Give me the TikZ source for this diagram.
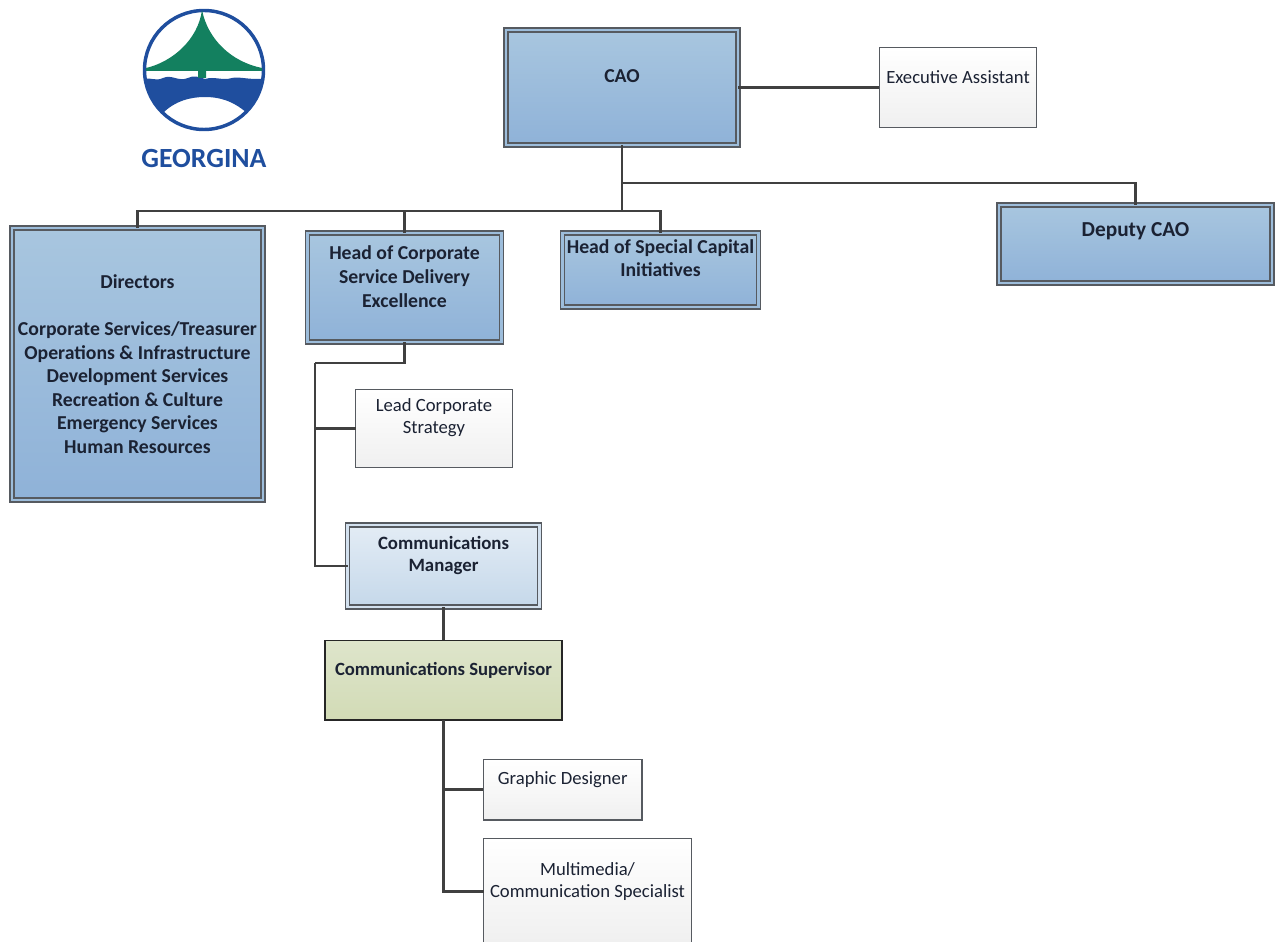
\documentclass[tikz,border=0pt]{standalone}
\usepackage{fontspec}
\setmainfont{Carlito}
\usepackage{xcolor}
\usetikzlibrary{positioning}
\definecolor{boxline}{HTML}{565A60}
\definecolor{wireline}{HTML}{404040}
\definecolor{inktext}{HTML}{1B2233}
\definecolor{logoblue}{HTML}{1F4E9E}
\definecolor{logogreen}{HTML}{13805F}
\definecolor{CAOtop}{HTML}{A8C6DF}
\definecolor{CAObot}{HTML}{8FB2D8}
\definecolor{CAOmid}{HTML}{9DBDDB}
\definecolor{MGRtop}{HTML}{E3ECF5}
\definecolor{MGRbot}{HTML}{C5D8EA}
\definecolor{MGRmid}{HTML}{D3E1EF}
\definecolor{SUPtop}{HTML}{DEE5CB}
\definecolor{SUPbot}{HTML}{D2DBB6}
\tikzset{
  >=latex,
  line/.style={draw=wireline, line width=2.2pt}
}

\begin{document}
\begin{tikzpicture}[x=0.75pt, y=-0.75pt, outer sep=0pt]
    % Define styles
    \tikzstyle{block} = [rectangle, draw=boxline, line width=1.2pt, double=#1, double distance=1.9pt, text=inktext, align=center, font=\fontsize{14.8}{17.7}\selectfont\bfseries]
    \tikzstyle{darkblock} = [block=CAOmid, top color=CAOtop, bottom color=CAObot]
    \tikzstyle{lightblock} = [block=MGRmid, top color=MGRtop, bottom color=MGRbot, font=\fontsize{14.1}{16.5}\selectfont\bfseries]
    \tikzstyle{plainblock} = [rectangle, draw=boxline, line width=0.9pt, top color=white, bottom color=black!6, text=inktext, align=center, font=\fontsize{14}{16.5}\selectfont]
    \tikzstyle{greenblock} = [rectangle, draw=black!85, line width=1.1pt, top color=SUPtop, bottom color=SUPbot, text=inktext, align=center, font=\fontsize{14}{17}\selectfont\bfseries]

    % Fix the page and cut what runs over it
    \useasboundingbox (0,0) rectangle (1276,941);
    \clip (0,0) rectangle (1276,941);

    % Logo
    \begin{scope}
        \clip (204,70) circle [radius=60];
        \fill[logoblue] (140,80) .. controls (150,76) and (155,82) .. (163,78)
            .. controls (172,74) and (178,82) .. (188,78) .. controls (193,75) and (200,77) .. (205,79)
            .. controls (215,76) and (222,81) .. (232,78) .. controls (240,76) and (250,81) .. (270,78)
            -- (270,135) -- (255,125) -- (247,113) .. controls (232,100) and (218,97) .. (205,97)
            .. controls (190,97) and (175,101) .. (163,113) -- (155,125) -- (140,135) -- cycle;
    \end{scope}
    \draw[logoblue, line width=2.6pt] (204,70) circle [radius=59.5];
    \fill[logogreen] (202,10) .. controls (198,40) and (172,62) .. (146,68) -- (146,71) -- (198,71) -- (198,78)
        -- (206,78) -- (206,71) -- (262,71) -- (262,68) .. controls (232,62) and (208,40) .. (202,10) -- cycle;
    \node[text=logoblue, font=\fontsize{20.8}{24}\selectfont\bfseries] (logotext) at (204,159) {GEORGINA};

    % Place nodes
    \node [darkblock, minimum width=174pt, minimum height=86.25pt, text depth=17pt] (cao) at (622,87.5) {CAO};
    \node [plainblock, minimum width=118pt, minimum height=59.6pt, text depth=15pt, right=106pt of cao] (assistant) {Executive Assistant};
    \node [darkblock, minimum width=204.75pt, minimum height=58.5pt, text depth=21pt, font=\fontsize{16}{18}\selectfont\bfseries] (deputy) at (1135.5,244) {Deputy CAO};
    \node [darkblock, minimum width=188.25pt, minimum height=204pt] (directors) at (137.5,364) {Directors\\[17.7pt]Corporate Services/Treasurer\\Operations \& Infrastructure\\Development Services\\Recreation \& Culture\\Emergency Services\\Human Resources};
    \node [darkblock, minimum width=145.5pt, minimum height=81.75pt, text depth=16.5pt] (delivery) at (404.5,287.5) {Head of Corporate\\Service Delivery\\Excellence};
    \node [darkblock, minimum width=144.75pt, minimum height=55.5pt, text depth=18pt] (capital) at (660.5,270) {Head of Special Capital\\Initiatives};
    \node [plainblock, minimum width=117.75pt, minimum height=58.5pt, text depth=18pt] (strategy) at (434,428.5) {Lead Corporate\\Strategy};
    \node [lightblock, minimum width=144pt, minimum height=61.5pt, text depth=18pt] (manager) at (443.5,566) {Communications\\Manager};
    \node [greenblock, minimum width=178pt, minimum height=59.6pt, text depth=16.5pt, below=25pt of manager] (supervisor) {Communications Supervisor};
    \node [plainblock, minimum width=119pt, minimum height=45.4pt, text depth=17pt] (designer) at (562.75,789.75) {Graphic Designer};
    \node [plainblock, minimum width=156pt, minimum height=79.5pt, text depth=17pt] (specialist) at (587.5,891.5) {Multimedia/\\Communication Specialist};

    % Bends of the wires
    \coordinate (busa) at (622,183);
    \coordinate (busb) at (622,211);
    \coordinate (spine) at (315,363);

    % Draw edges
    \path [line] (cao) -- (assistant);
    \path [line] (cao.south) -- (busb);
    \path [line] (busa) -| (deputy.north);
    \path [line] (directors.north) |- (busb);
    \path [line] (delivery.north) |- (busb);
    \path [line] (capital.north) |- (busb);
    \path [line] (delivery.south) |- (spine);
    \path [line] (spine) |- (manager.west);
    \path [line] (spine |- strategy.west) -- (strategy.west);
    \path [line] (manager.south) -- (supervisor.north);
    \path [line] (supervisor.south) |- (specialist.west);
    \path [line] (supervisor.south |- designer.west) -- (designer.west);
\end{tikzpicture}
\end{document}
